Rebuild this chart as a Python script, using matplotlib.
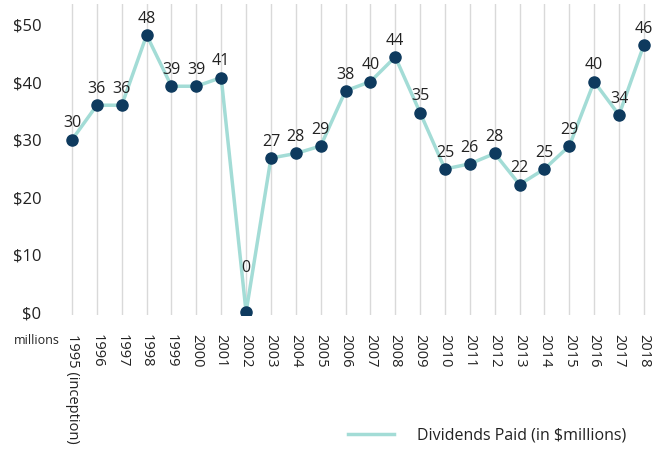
import matplotlib
matplotlib.use("Agg")
import matplotlib.pyplot as plt
from matplotlib.lines import Line2D

# 数据
years = ["1995 (inception)", "1996", "1997", "1998", "1999", "2000", "2001", "2002",
         "2003", "2004", "2005", "2006", "2007", "2008", "2009", "2010", "2011",
         "2012", "2013", "2014", "2015", "2016", "2017", "2018"]
dividends = [30.0, 36.0, 36.0, 48.2, 39.3, 39.3, 40.8, 0.0, 26.8, 27.6, 28.9, 38.5,
             40.1, 44.4, 34.7, 24.9, 25.8, 27.6, 22.2, 24.9, 28.9, 40.1, 34.3, 46.5]
y_ticks = [0, 10, 20, 30, 40, 50]
legend_label = "Dividends Paid (in $millions)"

line_color = "#a3dcd6"
marker_color = "#0e3a5e"
text_color = "#222222"

plt.rcParams['font.family'] = ['Open Sans', 'DejaVu Sans']

fig = plt.figure(figsize=(6.63, 4.5), dpi=100)
ax = fig.add_axes([0.0899, 0.30, 0.9, 0.691])

x = list(range(len(years)))
ax.plot(x, dividends, color=line_color, linewidth=2.5, zorder=2)
ax.plot(x, dividends, 'o', color=marker_color, markersize=8, zorder=3)

# 数据标签（0值标签放高一些，避开折线）
for xi, v in zip(x, dividends):
    dy = 26 if v == 0 else 6
    ax.annotate(f"{v:.0f}", (xi, v), xytext=(0, dy), textcoords="offset points",
                ha="center", va="bottom", fontsize=11.5, color=text_color)

ax.set_xlim(-0.5, len(years) - 0.5)
ax.set_ylim(-0.5, 53.6)

ax.set_xticks(x)
ax.set_xticklabels(years, rotation=-90, fontsize=10.5, color=text_color, va="top", ha="center")
ax.set_yticks(y_ticks)
ax.set_yticklabels([f"${t}" for t in y_ticks], fontsize=12, color=text_color)
ax.tick_params(axis="both", length=0)
ax.tick_params(axis="x", pad=14)
ax.tick_params(axis="y", pad=13)

ax.grid(axis="x", color="#d9d9d9", linewidth=1)
ax.set_axisbelow(True)
for s in ax.spines.values():
    s.set_visible(False)

fig.text(14 / 663, 1 - 340 / 450, "millions", fontsize=9, color=text_color, va="center", ha="left")

handle = Line2D([], [], color=line_color, linewidth=2.5)
fig.legend([handle], [legend_label], loc="center", bbox_to_anchor=(487 / 663, 1 - 436 / 450),
           frameon=False, fontsize=11.5, handlelength=2.9, handletextpad=1.4,
           labelcolor=text_color)

fig.savefig("out.png", dpi=100, facecolor="white")
